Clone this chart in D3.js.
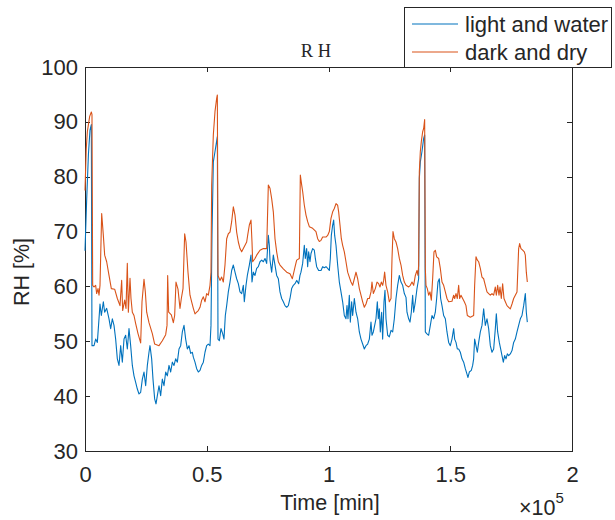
<!DOCTYPE html>
<html lang="en">
<head>
<meta charset="UTF-8">
<title>RH</title>
<script src="https://cdn.jsdelivr.net/npm/d3@7/dist/d3.min.js"></script>
<style>
    body { margin: 0; background: #fff; }
    .axis path, .axis line { fill: none; stroke: #262626; stroke-width: 1; shape-rendering: crispEdges; }
    .axis text { font-family: "Liberation Sans", Arial, sans-serif; font-size: 22px; fill: #262626; }
    .label { font-family: "Liberation Sans", Arial, sans-serif; font-size: 21.5px; fill: #262626; }
    .legend text { font-size: 22px; }
    .title { font-family: "Liberation Serif", "Times New Roman", serif; font-size: 18.5px; fill: #262626; }
    .line { fill: none; stroke-width: 1.1; stroke-linejoin: round; }
</style>
</head>
<body>
<svg id="vis" width="615" height="520"></svg>
<script>
// time in minutes, relative humidity in %
const lightTime = [0,700,1400,2050,2600,2870,3700,4380,5070,5750,6160,6710,7530,8080,8900,9860,10540,11230,11910,12590,13280,13960,14650,15330,16020,16700,17380,18070,18750,19440,20120,20810,21490,22180,22860,23550,24230,24910,25600,26280,26690,27380,27920,28610,29160,29710,30390,31070,31760,32440,33130,33810,34500,35180,35870,36550,37230,37920,38600,39290,39970,40660,41340,42030,42710,43400,44080,44490,45170,45860,46540,47230,47910,48600,49280,49960,50650,51330,51740,52150,52700,53390,54350,54620,55170,55850,56530,57080,57630,58180,58860,59550,60230,60920,61600,62280,62970,63650,64340,65020,65430,66120,66670,67490,68170,68580,69130,69810,70500,71180,71870,72550,73240,73920,74610,75290,75700,75970,76660,77340,78030,78710,79400,80080,80770,81450,82140,82820,83500,84190,84870,85560,86240,86930,87750,88290,88700,89390,90070,90480,91030,91440,91850,92400,92810,93490,94180,94590,95140,95960,96920,97600,98290,98970,99650,100340,100750,101160,101710,102120,102530,103080,103760,104450,105130,105810,106500,107180,107590,108000,108550,108960,109510,109920,110610,111290,111980,112660,113340,114030,114710,115400,116080,116770,117450,117860,118410,118960,119500,120050,120460,120870,121280,121830,122240,122790,123200,123610,124300,124980,125670,126350,127030,127720,128400,129090,129770,130460,131140,131830,132230,132920,133470,134010,134560,134970,135660,136340,137020,137300,137710,138390,139080,139490,139760,140310,141130,141820,142500,143180,143870,144420,144960,145510,146060,146610,147290,147980,148660,149350,150030,150710,151400,151810,152360,152900,153450,154140,154820,155510,156190,156870,157280,157830,158650,159200,159610,160020,160570,161120,161670,162350,163030,163720,164400,165090,165770,166460,167140,167830,168510,168920,169470,170150,170700,171250,171800,172340,172890,173440,173990,174670,175360,176040,176720,177410,178090,178780,179460,180150,180830,181240,181650];
const lightRH = [66.5,76.0,84.0,88.5,89.5,49.2,49.2,50.4,49.8,54.1,56.8,54.7,57.2,55.3,56.0,54.1,52.3,54.1,52.9,50.4,46.8,45.6,49.2,46.2,50.4,51.1,48.6,52.3,49.2,45.6,43.7,42.5,41.3,40.4,40.7,43.1,44.4,41.9,45.6,48.0,49.2,46.8,43.1,39.5,38.6,40.1,41.9,40.1,43.1,41.9,44.4,43.7,45.6,44.4,46.2,45.6,46.8,46.2,48.6,49.2,51.7,52.9,50.4,48.6,49.2,47.8,48.0,47.1,46.2,45.0,44.4,44.7,45.6,46.2,48.0,49.2,49.5,49.2,52.9,69.3,82.7,84.6,87.3,50.4,50.1,52.3,51.4,50.4,54.7,56.5,59.0,60.8,62.9,63.9,62.6,61.4,60.5,59.0,58.7,60.2,57.2,60.2,62.0,63.9,65.7,60.8,62.6,62.0,63.3,63.6,64.5,64.8,64.5,65.1,64.2,69.3,67.5,64.8,62.6,65.7,63.9,62.0,61.4,59.0,57.8,57.2,56.5,56.2,56.5,57.8,59.6,60.2,60.5,61.1,60.5,62.0,62.6,64.2,67.5,65.1,66.9,63.6,66.3,64.5,66.0,66.9,66.6,65.1,63.6,62.9,62.9,63.6,63.4,63.6,63.3,62.9,65.1,69.3,71.2,72.1,69.3,67.5,63.9,60.8,59.0,57.2,54.7,54.1,56.5,54.1,58.4,53.5,57.2,54.7,57.8,55.3,54.1,51.7,50.4,49.5,48.6,49.2,49.5,50.4,53.5,51.1,51.7,52.9,54.1,57.2,54.1,55.9,51.7,55.3,50.4,57.2,59.3,54.1,51.1,50.8,52.0,51.7,54.1,57.8,60.2,62.0,60.8,60.2,58.7,58.0,55.3,54.1,53.5,55.3,58.4,55.3,57.2,59.6,61.4,79.7,82.7,84.6,87.0,87.6,51.7,51.4,51.1,52.9,54.7,54.1,55.3,57.8,60.8,61.4,57.8,56.5,54.7,54.1,51.7,49.8,49.2,50.4,52.3,50.4,49.8,48.6,48.6,48.0,46.8,46.2,45.0,44.0,43.4,44.4,44.7,45.6,46.8,50.4,49.2,48.0,49.8,51.7,52.9,55.9,52.9,54.1,52.3,49.2,48.0,48.6,52.3,55.0,51.7,49.8,48.6,47.4,46.2,47.4,46.8,47.7,47.4,47.7,48.3,49.8,50.4,51.7,52.9,54.1,54.7,56.5,58.7,55.3,53.5];

const darkTime = [0,500,960,1920,2600,2870,3150,3700,4380,4790,5340,5750,6160,6850,7530,8080,8900,9860,10810,12180,13280,14370,15060,15470,16290,16840,17380,17800,18480,18890,19440,20120,20810,21770,22860,23410,24230,24780,25330,26280,27650,28610,30390,31760,33130,33680,33950,34360,35460,36280,36820,37370,38190,39010,39560,40250,40930,41480,42300,43120,43800,44490,45170,45860,46540,47230,47910,48600,49280,49960,50650,51330,51740,52020,52700,53390,54070,54350,54620,55440,56120,56810,57490,58180,58860,59550,60230,60920,61600,62280,62970,63650,64340,65020,65710,66390,66800,67490,68170,68580,68860,69810,70500,71870,73240,74610,75290,75970,76660,77340,78030,78710,79400,80080,81450,82820,84190,85150,86240,86930,88020,88430,88980,89390,90070,90760,91440,92130,93490,94860,95550,96230,96920,97600,98970,99650,100340,101020,101710,102390,103080,103760,104170,104720,105270,105810,106500,107180,107870,108550,109240,109920,110610,111290,111980,112660,113340,114030,114710,115400,116080,116770,117450,117860,118410,119230,119920,120600,121150,121690,122240,122650,123060,123610,124300,124980,125670,126080,126490,127030,127720,128400,129090,129770,130460,131140,131830,132920,133600,134290,134970,135660,136340,136750,137020,137300,137710,138120,138670,139080,139490,139760,140040,140580,141130,141680,142230,142770,143320,143870,144420,145240,145920,146610,147290,147980,148660,149350,150710,151400,151810,152360,152900,153450,153860,154410,155090,155780,156460,157010,158240,159610,160020,160570,161120,161670,162350,163030,163720,164400,165090,165770,166460,167140,167830,168510,168920,169470,170020,170430,170970,171520,172070,172620,173300,173990,174670,175360,176040,176720,177410,178090,178500,179050,179740,180420,180830,181240,181650];
const darkRH = [77.5,85.0,88.2,91.0,91.8,91.3,60.2,59.9,60.2,58.7,59.6,58.4,60.2,73.3,69.3,65.7,64.5,62.0,59.6,59.5,57.8,56.5,61.1,55.6,57.5,56.0,64.2,55.3,61.5,57.8,55.3,54.7,53.2,51.4,49.7,57.2,61.3,59.0,55.3,53.4,51.4,49.5,49.2,50.1,51.2,52.9,62.0,55.3,54.8,53.4,54.7,60.8,59.5,56.0,57.8,59.6,69.6,68.1,62.6,58.4,57.2,56.0,55.0,55.3,55.6,56.2,57.5,58.1,57.2,58.7,58.4,60.2,62.6,78.5,87.6,91.9,94.3,94.9,62.0,61.1,61.7,60.8,63.9,68.7,69.6,69.9,71.8,74.5,73.0,69.9,68.1,66.9,66.3,66.9,67.5,68.1,69.3,71.2,72.1,68.1,64.5,65.1,65.7,66.6,66.9,66.9,78.5,77.9,76.0,73.6,68.7,66.3,64.5,63.9,63.2,62.6,62.3,61.4,63.5,64.8,65.1,80.3,78.5,77.3,74.8,73.0,71.8,70.9,70.6,70.0,68.7,68.2,68.4,69.0,69.0,69.3,70.0,72.4,73.6,74.2,75.1,74.8,73.6,71.2,68.7,67.5,66.3,64.5,62.6,61.7,60.8,60.2,61.4,62.6,61.4,59.6,58.4,57.2,56.2,56.8,57.8,57.8,59.0,60.8,58.7,59.6,60.8,60.5,59.9,60.8,60.2,61.1,62.6,60.2,59.0,57.2,57.8,65.1,70.0,68.7,68.1,66.9,65.1,63.9,62.0,60.8,60.2,59.9,60.2,60.8,60.2,62.0,62.9,62.0,63.9,80.9,84.6,86.4,88.2,88.8,90.4,63.3,60.2,59.6,58.4,59.0,57.5,61.4,66.3,66.6,65.4,65.1,63.3,60.8,60.2,59.0,57.8,57.2,57.3,58.4,57.8,58.7,57.8,60.2,57.8,58.4,57.8,57.2,56.5,54.7,54.4,54.7,60.2,65.4,64.8,64.5,63.3,61.7,61.4,60.2,59.0,58.7,58.4,58.7,58.4,59.9,58.4,60.2,58.4,59.9,57.8,60.5,57.8,57.2,56.5,56.2,55.9,56.8,57.8,58.4,59.0,66.9,67.8,66.9,66.6,66.3,65.7,62.6,60.8];

const xTicks = [0, 50000, 100000, 150000, 200000];
const xTickLabels = ["0", "0.5", "1", "1.5", "2"];
const yTicks = [30, 40, 50, 60, 70, 80, 90, 100];
const seriesNames = ["light and water", "dark and dry"];
const seriesColors = ["#0072BD", "#D95319"];

let svg = d3.select("#vis");
let margin = { top: 67, right: 43, bottom: 69, left: 85 };
let width = +svg.attr("width");
let height = +svg.attr("height");

let x = d3.scaleLinear().domain([0, 200000]).range([margin.left, width - margin.right]);
let y = d3.scaleLinear().domain([30, 100]).range([height - margin.bottom, margin.top]);

/* axes, MATLAB style: box on, ticks inside */
svg.append("g")
    .attr("class", "axis")
    .attr("transform", "translate(0," + (height - margin.bottom) + ")")
    .call(d3.axisBottom(x).tickValues(xTicks).tickFormat((d, i) => xTickLabels[i]).tickSizeInner(-5).tickSizeOuter(0).tickPadding(15));

svg.append("g")
    .attr("class", "axis")
    .attr("transform", "translate(0," + margin.top + ")")
    .call(d3.axisTop(x).tickValues(xTicks).tickFormat("").tickSizeInner(-5).tickSizeOuter(0));

svg.append("g")
    .attr("class", "axis")
    .attr("transform", "translate(" + margin.left + ",0)")
    .call(d3.axisLeft(y).tickValues(yTicks).tickSizeInner(-5).tickSizeOuter(0).tickPadding(7));

svg.append("g")
    .attr("class", "axis")
    .attr("transform", "translate(" + (width - margin.right) + ",0)")
    .call(d3.axisRight(y).tickValues(yTicks).tickFormat("").tickSizeInner(-5).tickSizeOuter(0));

/* lines */
let series = [
    lightTime.map((t, i) => [t, lightRH[i]]),
    darkTime.map((t, i) => [t, darkRH[i]])
];
let line = d3.line().x(d => x(d[0])).y(d => y(d[1]));

svg.selectAll(".line")
    .data(series)
    .join("path")
    .attr("class", "line")
    .attr("stroke", (d, i) => seriesColors[i])
    .attr("d", line);

/* labels */
svg.append("text")
    .attr("class", "label")
    .attr("x", 330)
    .attr("y", 510)
    .attr("text-anchor", "middle")
    .text("Time [min]");

let expo = svg.append("text")
    .attr("class", "label")
    .attr("x", 519)
    .attr("y", 515);
expo.append("tspan").text("\u00d710");
expo.append("tspan").attr("dy", -12).attr("font-size", 15).text("5");

svg.append("text")
    .attr("class", "label")
    .attr("transform", "translate(29,272) rotate(-90)")
    .attr("text-anchor", "middle")
    .text("RH [%]");

svg.append("text")
    .attr("class", "title")
    .attr("x", 316)
    .attr("y", 57)
    .attr("text-anchor", "middle")
    .text("R H");

/* legend */
let legend = svg.append("g").attr("class", "legend");
legend.append("rect")
    .attr("x", 404.5).attr("y", 7.5)
    .attr("width", 207).attr("height", 60)
    .attr("fill", "#fff").attr("stroke", "#262626");

seriesNames.forEach(function(name, i) {
    let ly = 24 + i * 28;
    legend.append("line")
        .attr("x1", 412).attr("x2", 458)
        .attr("y1", ly).attr("y2", ly)
        .attr("stroke", seriesColors[i]).attr("stroke-width", 1.1);
    legend.append("text")
        .attr("class", "label")
        .attr("x", 465)
        .attr("y", ly + 8)
        .text(name);
});
</script>
</body>
</html>
